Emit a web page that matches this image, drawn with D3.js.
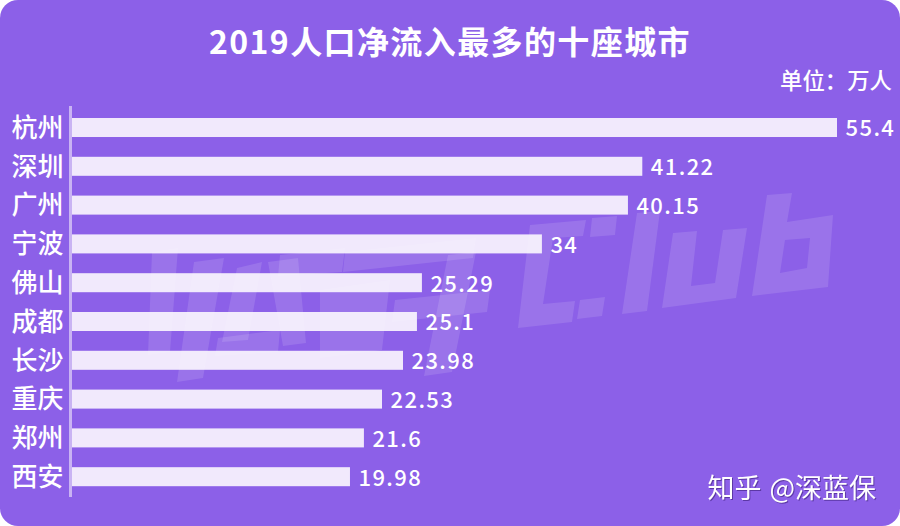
<!DOCTYPE html>
<html>
<head>
<meta charset="utf-8">
<script src="https://cdn.jsdelivr.net/npm/d3@7"></script>
<style>
html, body { margin: 0; padding: 0; background: #fff; }
svg { display: block; }
text { font-family: "Noto Sans CJK SC", "Noto Sans", sans-serif; fill: #fff; }
</style>
</head>
<body>
<svg id="chart" width="900" height="526"></svg>
<script>
var cities = ["杭州", "深圳", "广州", "宁波", "佛山", "成都", "长沙", "重庆", "郑州", "西安"];
// printed labels
var labels = ["55.4", "41.22", "40.15", "34", "25.29", "25.1", "23.98", "22.53", "21.6", "19.98"];
// bar lengths as measured, the original bars don't quite agree with their labels
var barLengths = [55.4, 41.3, 40.26, 34.03, 25.34, 24.98, 23.97, 22.45, 21.14, 20.13];
var titleText = "2019人口净流入最多的十座城市";
var unitText = "单位：万人";
var creditText = "知乎 @深蓝保";

// watermark logo outlines, traced (page pixels)
var logoShapes = [
    "M530,225L586,220L583,236L553,238L543,304L575,301L572,322L518,328Z",
    "M592,218L617,216L615,235L590,237Z",
    "M580,300L605,297L602,316L577,319Z",
    "M637,213L660,211L647,311L622,314Z",
    "M673,233L697,231L691,286L715,283L723,230L747,228L736,298L662,308Z",
    "M767,195L792,193L787,222L833,215L828,287L752,296ZM785,240L780,273L807,268L810,238Z",
    "M152,252L178,248L170,352L148,355Z",
    "M194,262L224,258L203,378L177,382Z",
    "M237,268L262,262L248,340L222,342Z",
    "M218,338L280,330L278,352L215,356Z",
    "M268,262L298,258L306,343L283,346Z",
    "M280,255L345,248L342,272L278,276Z",
    "M345,252L476,238L473,258L343,272Z",
    "M448,255L476,252L452,372L424,376Z",
    "M395,300L490,290L487,312L392,322Z",
    "M320,290L390,280L382,350L320,358Z"
];

var svg = d3.select("#chart");

// background card
svg.append("rect")
    .attr("width", 900).attr("height", 526)
    .attr("rx", 18).attr("ry", 18)
    .attr("fill", "#8c60e8");

var x = d3.scaleLinear().domain([0, 55.4]).range([72, 837]);
var y = d3.scaleBand().domain(cities).range([108.3, 495.9]).paddingInner(0.51).paddingOuter(0.25);

// bars
svg.selectAll("rect.bar").data(barLengths).enter().append("rect")
    .attr("class", "bar")
    .attr("x", x(0))
    .attr("y", (d, i) => y(cities[i]))
    .attr("width", d => x(d) - x(0))
    .attr("height", y.bandwidth())
    .attr("fill", "#f1e9fc");

// watermark sits over the bars, very faint
svg.append("g").selectAll("path").data(logoShapes).enter().append("path")
    .attr("d", d => d)
    .attr("fill", "#fff")
    .attr("fill-rule", "evenodd")
    .attr("opacity", 0.12);

// axis line and city labels
var yAxis = d3.axisLeft(y).tickSize(0).tickPadding(7);
var axisG = svg.append("g").attr("transform", "translate(70.5,1)").call(yAxis);
axisG.select(".domain").remove();
axisG.selectAll("text")
    .attr("font-size", 26).attr("font-weight", 500)
    .attr("font-family", '"Noto Sans CJK SC"')
    .attr("fill", "#fff");
svg.append("line")
    .attr("x1", 70.5).attr("x2", 70.5).attr("y1", 106).attr("y2", 497)
    .attr("stroke", "#c9b3f3").attr("stroke-width", 3);

// value labels
svg.selectAll("text.val").data(labels).enter().append("text")
    .attr("class", "val")
    .attr("x", (d, i) => x(barLengths[i]) + 8.5)
    .attr("y", (d, i) => y(cities[i]) + y.bandwidth() / 2 + 1)
    .attr("dy", "0.36em")
    .attr("font-size", 22).attr("font-weight", 500)
    .attr("letter-spacing", 1.4)
    .text(d => d);

// title, unit, credit
svg.append("text").attr("x", 450).attr("y", 54)
    .attr("text-anchor", "middle")
    .attr("font-size", 32).attr("font-weight", 700).attr("letter-spacing", 1.4)
    .text(titleText);
svg.append("text").attr("x", 892).attr("y", 89)
    .attr("text-anchor", "end")
    .attr("font-size", 22.4).attr("font-weight", 500)
    .text(unitText);
svg.append("text").attr("x", 876).attr("y", 498)
    .attr("text-anchor", "end")
    .attr("font-size", 27).attr("font-weight", 400)
    .attr("word-spacing", 2)
    .style("filter", "drop-shadow(1px 1px 0.5px rgba(60,30,120,0.6))")
    .text(creditText);
</script>
</body>
</html>
